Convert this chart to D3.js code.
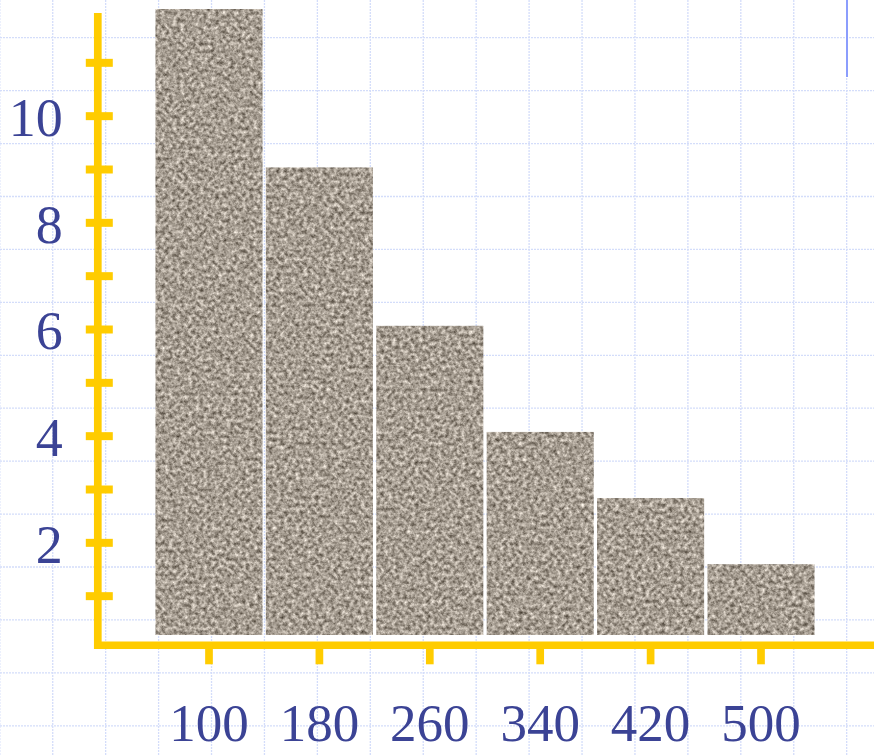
<!DOCTYPE html>
<html>
<head>
<meta charset="utf-8">
<script src="https://cdn.jsdelivr.net/npm/d3@7"></script>
<style>
  html, body { margin: 0; padding: 0; background: #fff; }
  svg { display: block; }
</style>
</head>
<body>
<svg id="chart"></svg>
<script>
// data
const categories = ["100", "180", "260", "340", "420", "500"];
const counts = [12, 9.03, 6.06, 4.07, 2.83, 1.59];
const yTickValues = d3.range(1, 12);
const yLabels = [2, 4, 6, 8, 10];

const width = 874, height = 755;
const gold = "#ffcc00";
const ink = "#3b4395";
const font = "'Liberation Serif', 'Times New Roman', serif";

const svg = d3.select("#chart")
  .attr("width", width)
  .attr("height", height)
  .attr("viewBox", [0, 0, width, height]);

// granite look for the bars
const defs = svg.append("defs");
const filter = defs.append("filter")
  .attr("id", "granite")
  .attr("x", 0).attr("y", 0).attr("width", 1).attr("height", 1)
  .attr("color-interpolation-filters", "sRGB");
filter.append("feTurbulence")
  .attr("type", "fractalNoise")
  .attr("baseFrequency", 0.26)
  .attr("numOctaves", 3)
  .attr("seed", 7);
filter.append("feColorMatrix")
  .attr("type", "matrix")
  .attr("values", "0.85 0 0 0 0.225  0.85 0 0 0 0.19  0.85 0 0 0 0.145  0 0 0 0 1");
filter.append("feComposite")
  .attr("operator", "in")
  .attr("in2", "SourceGraphic");

// background grid paper
const gridStep = 52.93;
const grid = svg.append("g")
  .attr("stroke", "#d4ddfa")
  .attr("stroke-width", 1.3)
  .attr("stroke-dasharray", "2 1");
grid.selectAll("line.v")
  .data(d3.range(-0.2, width, gridStep))
  .join("line")
  .attr("class", "v")
  .attr("x1", d => d).attr("x2", d => d)
  .attr("y1", 0).attr("y2", height);
grid.selectAll("line.h")
  .data(d3.range(37.7, height, gridStep))
  .join("line")
  .attr("class", "h")
  .attr("y1", d => d).attr("y2", d => d)
  .attr("x1", 0).attr("x2", width);

// stray marker at top right
svg.append("line")
  .attr("x1", 847).attr("x2", 847)
  .attr("y1", 0).attr("y2", 77)
  .attr("stroke", "#8b9dfd")
  .attr("stroke-width", 2);

const x = d3.scaleBand()
  .domain(categories)
  .range([153.8, 816.2])
  .paddingInner(0.03)
  .paddingOuter(0.015);

const y = d3.scaleLinear()
  .domain([0, 12])
  .range([649, 9]);

const barGap = 14; // bars sit a little above the axis line

svg.append("g")
  .selectAll("rect")
  .data(counts)
  .join("rect")
  .attr("x", (d, i) => x(categories[i]))
  .attr("y", d => y(d))
  .attr("width", x.bandwidth())
  .attr("height", d => y(0) - barGap - y(d))
  .attr("fill", "#a39a8f")
  .attr("filter", "url(#granite)");

// y axis
const yAxisX = 97.8;
const gy = svg.append("g")
  .attr("transform", `translate(${yAxisX},0)`)
  .call(d3.axisLeft(y)
    .tickValues(yTickValues)
    .tickSize(0)
    .tickFormat(d => yLabels.includes(d) ? d : ""));
gy.select(".domain")
  .attr("d", `M0,13V${y(0)}`)
  .attr("stroke", gold)
  .attr("stroke-width", 7.7);
gy.selectAll(".tick line")
  .attr("x1", -12)
  .attr("x2", 15)
  .attr("stroke", gold)
  .attr("stroke-width", 8);
gy.selectAll(".tick text")
  .attr("x", -35)
  .attr("dy", "0.37em")
  .attr("fill", ink)
  .attr("font-family", font)
  .attr("font-size", 54);

// x axis
const xAxisY = 645.3;
const gx = svg.append("g")
  .attr("transform", `translate(0,${xAxisY})`)
  .call(d3.axisBottom(x).tickSize(0));
gx.select(".domain")
  .attr("d", `M${yAxisX - 1},0H${width}`)
  .attr("stroke", gold)
  .attr("stroke-width", 7.5);
gx.selectAll(".tick line")
  .attr("y1", -3)
  .attr("y2", 19)
  .attr("stroke", gold)
  .attr("stroke-width", 7.7);
gx.selectAll(".tick text")
  .attr("y", 96)
  .attr("dy", 0)
  .attr("fill", ink)
  .attr("font-family", font)
  .attr("font-size", 53);
</script>
</body>
</html>
